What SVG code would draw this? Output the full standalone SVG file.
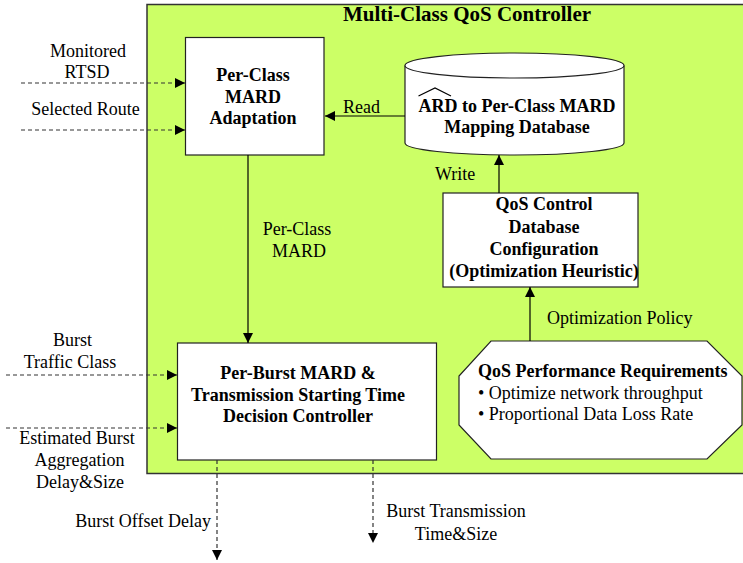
<svg xmlns="http://www.w3.org/2000/svg" width="743" height="563" viewBox="0 0 743 563">
  <defs>
    <marker id="arrow" viewBox="0 0 10 10" refX="10" refY="5" markerWidth="10" markerHeight="10" markerUnits="userSpaceOnUse" orient="auto">
      <path d="M0,0 L10,5 L0,10 Z" fill="#000"/>
    </marker>
    <style>
      text { font-family: "Liberation Serif", "Times New Roman", serif; fill: #000; }
      .lbl { font-size: 18px; }
      .bold { font-size: 18px; font-weight: bold; }
      .title { font-size: 21px; font-weight: bold; }
      .box { fill: #fff; stroke: #222; stroke-width: 1.2; }
      .solid { fill: none; stroke: #000; stroke-width: 1.2; marker-end: url(#arrow); }
      .dashed { fill: none; stroke: #333; stroke-width: 1.2; stroke-dasharray: 4 3; marker-end: url(#arrow); }
      .mid { text-anchor: middle; }
    </style>
  </defs>

  <!-- controller container -->
  <g id="controller">
    <rect x="147" y="4.5" width="610" height="469" fill="#ccff66" stroke="#333" stroke-width="1.5"/>
    <text class="title mid" x="467" y="21">Multi-Class QoS Controller</text>
  </g>

  <g id="adaptation">
    <rect class="box" x="185.5" y="37.5" width="138.5" height="117.5"/>
    <text class="bold mid" x="253" y="81">Per-Class</text>
    <text class="bold mid" x="253" y="103">MARD</text>
    <text class="bold mid" x="253" y="124">Adaptation</text>
  </g>

  <g id="database">
    <path d="M405,65.5 L405,143 A109.5,12 0 0 0 624,143 L624,65.5" fill="#fff" stroke="#222" stroke-width="1.2"/>
    <ellipse cx="514.5" cy="65.5" rx="109.5" ry="12.5" fill="#fff" stroke="#222" stroke-width="1.2"/>
    <path d="M418.5,96 L435,88 L451,96" fill="none" stroke="#000" stroke-width="1.2"/>
    <text class="bold mid" x="517" y="112">ARD to Per-Class MARD</text>
    <text class="bold mid" x="517" y="133">Mapping Database</text>
  </g>

  <g id="qos-config">
    <rect class="box" x="443" y="193" width="195" height="94"/>
    <text class="bold mid" x="544" y="210">QoS Control</text>
    <text class="bold mid" x="544" y="233">Database</text>
    <text class="bold mid" x="544" y="255">Configuration</text>
    <text class="bold mid" x="544" y="277">(Optimization Heuristic)</text>
  </g>

  <g id="qos-requirements">
    <polygon class="box" points="491,341 707,341 742,376 742,425 707,459 491,459 459,425 459,376"/>
    <text class="bold" x="478" y="377">QoS Performance Requirements</text>
    <text class="lbl" x="478" y="399">• Optimize network throughput</text>
    <text class="lbl" x="478" y="420">• Proportional Data Loss Rate</text>
  </g>

  <g id="burst-controller">
    <rect class="box" x="177.5" y="343" width="259" height="117"/>
    <text class="bold mid" x="298" y="379">Per-Burst MARD &amp;</text>
    <text class="bold mid" x="298" y="401">Transmission Starting Time</text>
    <text class="bold mid" x="298" y="422">Decision Controller</text>
  </g>

  <!-- connectors and their labels -->
  <g id="connectors">
    <line class="dashed" x1="21" y1="83" x2="185" y2="83"/>
    <line class="dashed" x1="21" y1="130" x2="185" y2="130"/>
    <line class="solid" x1="405" y1="116" x2="325" y2="116"/>
    <line class="solid" x1="499" y1="193" x2="499" y2="155"/>
    <line class="solid" x1="530" y1="341" x2="530" y2="287"/>
    <line class="solid" x1="248" y1="155" x2="248" y2="343"/>
    <line class="dashed" x1="6" y1="375" x2="177" y2="375"/>
    <line class="dashed" x1="6" y1="428" x2="177" y2="428"/>
    <line class="dashed" x1="217" y1="460" x2="217" y2="560"/>
    <line class="dashed" x1="373" y1="460" x2="373" y2="543"/>

    <text class="lbl mid" x="88" y="57">Monitored</text>
    <text class="lbl mid" x="87" y="78">RTSD</text>
    <text class="lbl mid" x="85.5" y="115">Selected Route</text>
    <text class="lbl" x="343" y="113">Read</text>
    <text class="lbl" x="435" y="180">Write</text>
    <text class="lbl mid" x="297" y="235">Per-Class</text>
    <text class="lbl mid" x="299" y="257">MARD</text>
    <text class="lbl" x="547" y="324">Optimization Policy</text>
    <text class="lbl mid" x="72.5" y="346">Burst</text>
    <text class="lbl mid" x="70" y="368">Traffic Class</text>
    <text class="lbl mid" x="77" y="444">Estimated Burst</text>
    <text class="lbl mid" x="79.5" y="466">Aggregation</text>
    <text class="lbl mid" x="80" y="488">Delay&amp;Size</text>
    <text class="lbl" x="211" y="527" text-anchor="end">Burst Offset Delay</text>
    <text class="lbl mid" x="456" y="517">Burst Transmission</text>
    <text class="lbl mid" x="456" y="540">Time&amp;Size</text>
  </g>
</svg>
